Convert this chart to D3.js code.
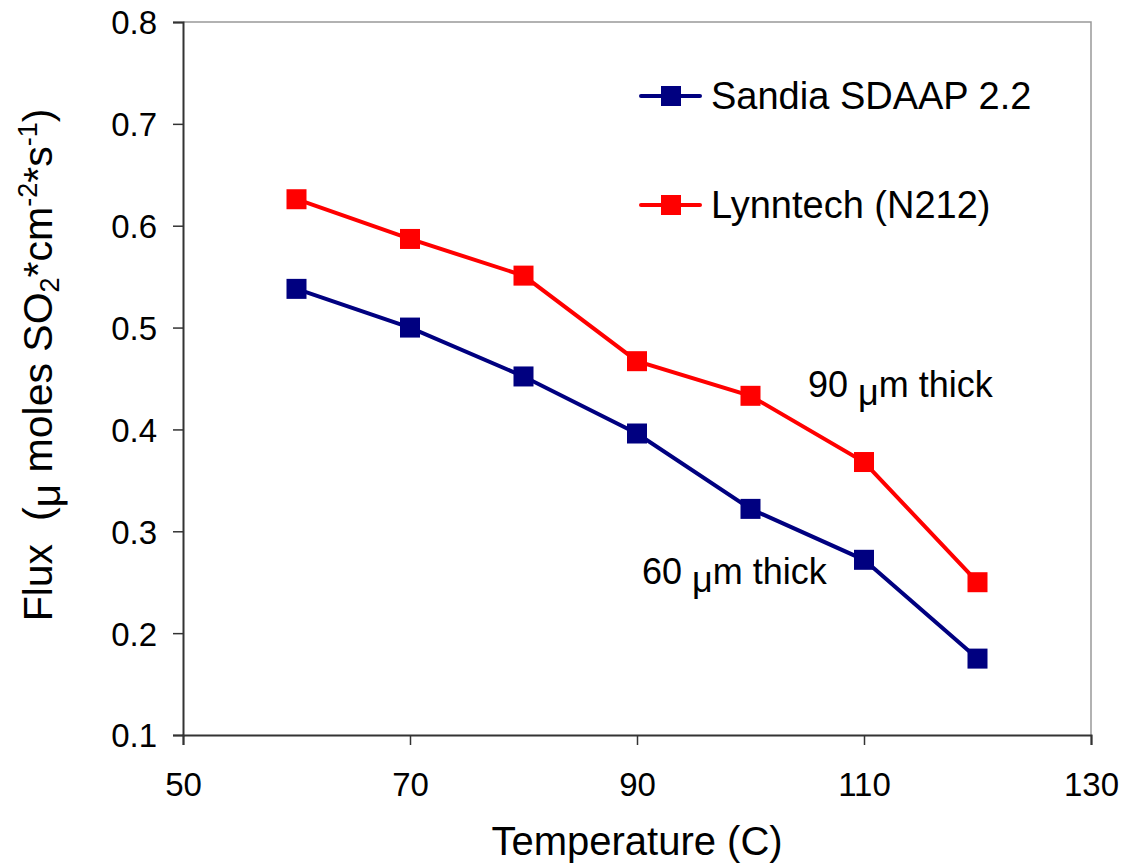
<!DOCTYPE html>
<html><head><meta charset="utf-8">
<script src="https://cdn.jsdelivr.net/npm/d3@7"></script>
<style>body{margin:0;background:#fff}svg{display:block}text{font-family:"Liberation Sans",Arial,sans-serif;fill:#000}</style>
</head><body>
<svg id="c" width="1124" height="866"></svg>
<script>
const temps = [60, 70, 80, 90, 100, 110, 120];
const sandia = [0.538, 0.500, 0.452, 0.396, 0.322, 0.272, 0.175];
const lynntech = [0.626, 0.587, 0.551, 0.467, 0.433, 0.368, 0.250];
const xTicks = [50, 70, 90, 110, 130];
const yTicks = [0.1, 0.2, 0.3, 0.4, 0.5, 0.6, 0.7, 0.8];
const seriesNames = ["Sandia SDAAP 2.2", "Lynntech (N212)"];
const colors = ["#000080", "#ff0000"];

const svg = d3.select("#c");
const L = 183, R = 1091, T = 22, B = 735;
const x = d3.scaleLinear().domain([50, 130]).range([L, R]);
const y = d3.scaleLinear().domain([0.1, 0.8]).range([B, T]);

// plot border (top/right)
svg.append("path").attr("d", `M${L},${T}H${R}V${B}`).attr("fill","none").attr("stroke","#999").attr("stroke-width",1.5);

const xa = svg.append("g").attr("transform",`translate(0,${B})`)
  .call(d3.axisBottom(x).tickValues(xTicks).tickSize(10).tickFormat(d3.format("d")));
const ya = svg.append("g").attr("transform",`translate(${L},0)`)
  .call(d3.axisLeft(y).tickValues(yTicks).tickSize(10).tickPadding(16).tickFormat(d3.format(".1f")));
[xa, ya].forEach(a => {
  a.select(".domain").attr("stroke","#333").attr("stroke-width",2);
  a.selectAll(".tick line").attr("stroke","#333").attr("stroke-width",1.5);
  a.selectAll(".tick text").attr("font-size",33).attr("font-family","Liberation Sans, Arial, sans-serif").attr("fill","#000");
});
xa.selectAll(".tick text").attr("y",61).attr("dy",0);
ya.selectAll(".tick text").attr("dy","0.36em");

const data = [sandia, lynntech];
const line = d3.line().x((d,i)=>x(temps[i])).y(d=>y(d));
data.forEach((s, k) => {
  svg.append("path").datum(s).attr("d", line).attr("fill","none").attr("stroke",colors[k]).attr("stroke-width",4);
  svg.selectAll(null).data(s).enter().append("rect")
    .attr("x",(d,i)=>x(temps[i])-10).attr("y",d=>y(d)-10).attr("width",20).attr("height",20).attr("fill",colors[k]);
});

// legend
const legY = [96, 205];
seriesNames.forEach((n, k) => {
  const g = svg.append("g");
  g.append("line").attr("x1",641).attr("x2",700).attr("y1",legY[k]).attr("y2",legY[k]).attr("stroke",colors[k]).attr("stroke-width",4).attr("stroke-linecap","round");
  g.append("rect").attr("x",661).attr("y",legY[k]-10).attr("width",20).attr("height",20).attr("fill",colors[k]);
  g.append("text").attr("x",711).attr("y",legY[k]+13).attr("font-size",38).text(n);
});

// annotations
function ann(xp, yp, pre, post) {
  const t = svg.append("text").attr("x",xp).attr("y",yp).attr("font-size",36).attr("xml:space","preserve");
  t.append("tspan").text(pre);
  t.append("tspan").attr("dy",8).text("\u03bc");
  t.append("tspan").attr("dy",-8).text(post);
}
ann(808, 397, "90 ", "m thick");
ann(642, 584, "60 ", "m thick");

// axis titles
svg.append("text").attr("x",(L+R)/2).attr("y",855).attr("text-anchor","middle").attr("font-size",40).text("Temperature (C)");
const yt = svg.append("text").attr("transform",`translate(52,${365}) rotate(-90)`).attr("text-anchor","middle").attr("font-size",41).attr("xml:space","preserve");
yt.append("tspan").text("Flux  (");
yt.append("tspan").attr("dy",8).text("\u03bc");
yt.append("tspan").attr("dy",-8).text(" moles SO");
yt.append("tspan").attr("dy",7).attr("font-size",27).text("2");
yt.append("tspan").attr("dy",-7).text("*cm");
yt.append("tspan").attr("dy",-15).attr("font-size",27).text("-2");
yt.append("tspan").attr("dy",15).text("*s");
yt.append("tspan").attr("dy",-15).attr("font-size",27).text("-1");
yt.append("tspan").attr("dy",15).text(")");
</script>
</body></html>
